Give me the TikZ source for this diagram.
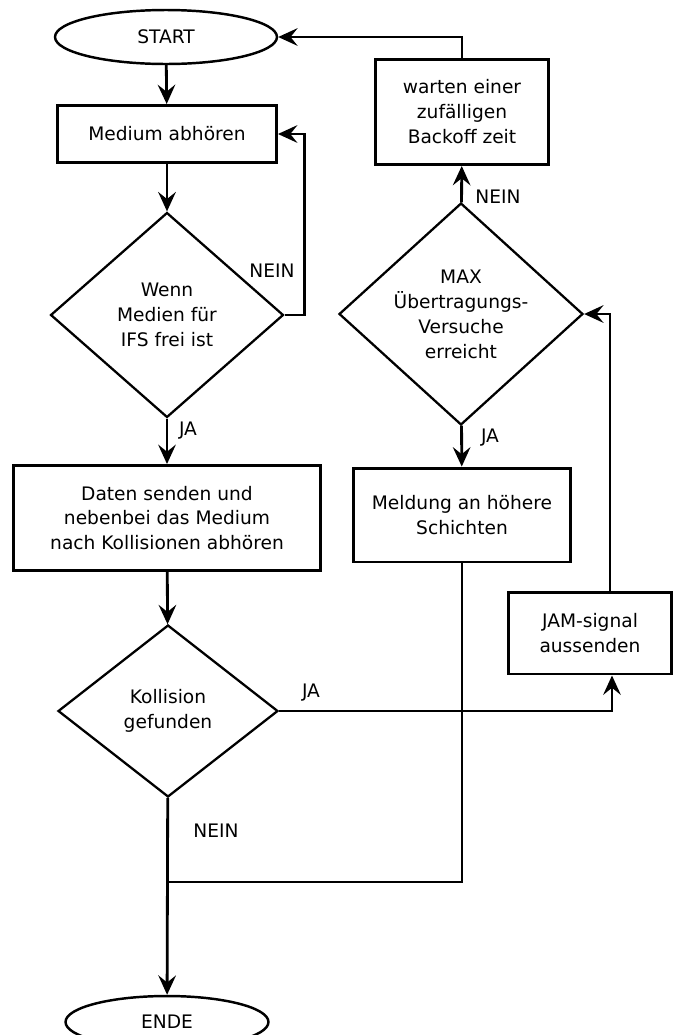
\documentclass[tikz,border=0pt]{standalone}
\usepackage{fontspec}
\setmainfont{DejaVu Sans}
\usepackage{tikz}
\usetikzlibrary{shapes.geometric,arrows.meta}
\tikzset{
  box/.style={draw, line width=1.7pt, rectangle, align=center, inner sep=0pt},
  decision/.style={draw, line width=1.3pt, diamond, aspect=1.1, align=center, inner sep=0pt},
  term/.style={draw, line width=1.4pt, ellipse, inner sep=0pt},
  arr/.style={line width=1.6pt, -{Stealth[length=11pt,width=10pt,inset=4pt]}},
  conn/.style={line width=1.6pt},
  lbl/.style={inner sep=0pt}
}

\begin{document}
\begin{tikzpicture}[x=0.02cm,y=-0.02cm,
  every node/.append style={font=\fontsize{10.6}{14.2}\selectfont}]
\useasboundingbox (0,0) rectangle (673,1035);

\node[term, minimum width=4.44cm, minimum height=1.08cm] (start) at (166,37) {START};
\node[box, minimum width=4.38cm, minimum height=1.14cm] (medium) at (167,134) {Medium abhören};
\node[decision, minimum width=4.66cm, minimum height=4.1cm] (ifs) at (167,315) {Wenn\\Medien für\\IFS frei ist};
\node[box, minimum width=6.14cm, minimum height=2.1cm] (daten) at (167,518) {Daten senden und\\nebenbei das Medium\\nach Kollisionen abhören};
\node[decision, minimum width=4.4cm, minimum height=3.44cm] (koll) at (168,711) {Kollision\\gefunden};
\node[term, minimum width=4.06cm, minimum height=1.04cm] (ende) at (167,1022) {ENDE};

\node[box, minimum width=3.48cm, minimum height=2.1cm] (warten) at (462,112) {warten einer\\zufälligen\\Backoff zeit};
\node[decision, minimum width=4.88cm, minimum height=4.44cm] (max) at (461,314) {MAX\\Übertragungs-\\Versuche\\erreicht};
\node[box, minimum width=4.36cm, minimum height=1.88cm] (meldung) at (462,515) {Meldung an höhere\\Schichten};
\node[box, minimum width=3.26cm, minimum height=1.64cm] (jam) at (590,633) {JAM-signal\\aussenden};

\coordinate (merge) at (167,882);

\node[lbl] (nein1) at (272,271) {NEIN};
\node[lbl] (ja1) at (188,431) {JA};
\node[lbl] (ja2) at (311,693) {JA};
\node[lbl] (nein2) at (216,831) {NEIN};
\node[lbl] (nein3) at (498,197) {NEIN};
\node[lbl] (ja3) at (490,438) {JA};

\draw[arr] (start) -- (medium);
\draw[arr] (medium) -- (ifs);
\draw[arr] (ifs.east) -- ++(20,0) |- (medium.east);
\draw[arr] (ifs) -- (daten);
\draw[arr] (daten) -- (koll);
\draw[arr] (koll.east) -| ([xshift=0.44cm]jam.south);
\draw[arr] ([xshift=0.4cm]jam.north) |- (max.east);
\draw[arr] (max) -- (warten);
\draw[arr] (warten.north) |- (start.east);
\draw[arr] (max) -- (meldung);
\draw[conn] (meldung.south) |- (merge);
\draw[arr] (koll) -- (ende);
\end{tikzpicture}
\end{document}
